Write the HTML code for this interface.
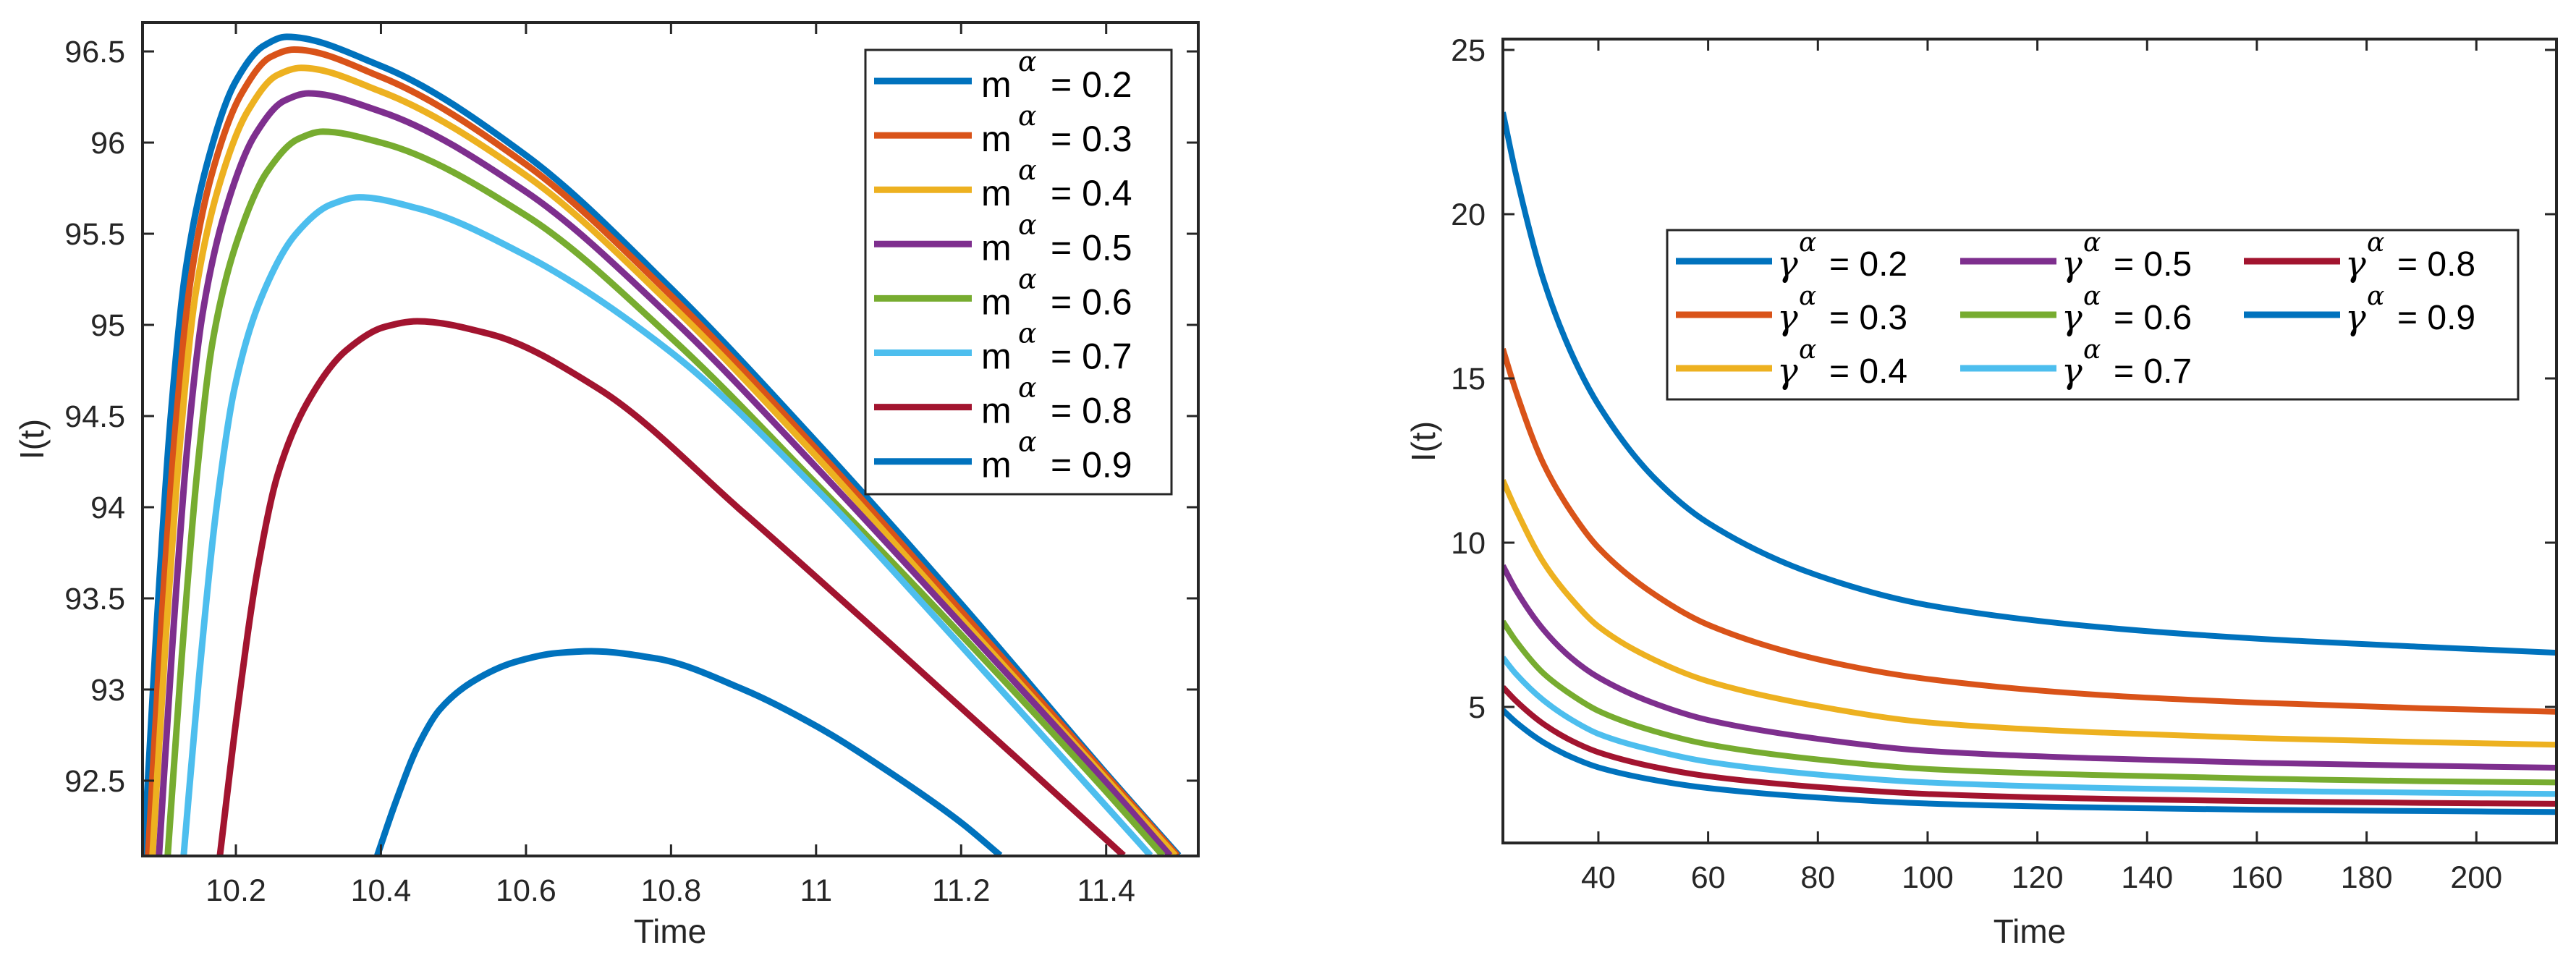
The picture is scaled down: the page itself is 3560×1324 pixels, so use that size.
<!DOCTYPE html>
<html><head><meta charset="utf-8"><style>
html,body{margin:0;padding:0;background:#fff;}
svg{display:block;font-family:"Liberation Sans",sans-serif;}
</style></head><body>
<svg id="fig" width="3560" height="1324" viewBox="0 0 3560 1324" xmlns="http://www.w3.org/2000/svg">
<defs>
<clipPath id="clipL"><rect x="197" y="31" width="1459" height="1152"/></clipPath>
<clipPath id="clipR"><rect x="2077" y="54" width="1456" height="1111"/></clipPath>
</defs>
<g id="left"></g>
<g id="right"></g>
</svg>
<script>
// ---- Left chart data ----
const leftLabels = ["0.2","0.3","0.4","0.5","0.6","0.7","0.8","0.9"];
const leftT02 = [10.073,10.090,10.110,10.130,10.160,10.199,10.238,10.27,10.4,10.6,10.8,11.0,11.2,11.4,11.50];
const leftI02 = [92.09,93.30,94.49,95.28,95.88,96.33,96.53,96.58,96.42,95.93,95.2,94.36,93.47,92.54,92.09];
const leftT03 = [10.079,10.096,10.117,10.137,10.167,10.208,10.248,10.28,10.4,10.6,10.8,11.0,11.2,11.4,11.498];
const leftI03 = [92.09,93.28,94.45,95.23,95.83,96.27,96.47,96.51,96.36,95.88,95.16,94.32,93.43,92.53,92.09];
const leftT04 = [10.085,10.103,10.124,10.144,10.175,10.216,10.257,10.29,10.4,10.6,10.8,11.0,11.2,11.4,11.495];
const leftI04 = [92.09,93.26,94.40,95.16,95.74,96.17,96.37,96.41,96.28,95.82,95.11,94.28,93.39,92.51,92.09];
const leftT05 = [10.094,10.112,10.133,10.154,10.185,10.226,10.267,10.30,10.4,10.6,10.8,11.0,11.2,11.4,11.488];
const leftI05 = [92.09,93.22,94.33,95.06,95.62,96.04,96.23,96.27,96.17,95.73,95.04,94.22,93.36,92.49,92.09];
const leftT06 = [10.106,10.125,10.147,10.168,10.2,10.243,10.286,10.32,10.4,10.6,10.8,11.0,11.2,11.4,11.478];
const leftI06 = [92.09,93.16,94.21,94.91,95.44,95.84,96.02,96.06,96.0,95.6,94.93,94.13,93.3,92.44,92.09];
const leftT07 = [10.128,10.149,10.174,10.198,10.234,10.283,10.331,10.37,10.45,10.6,10.8,11.0,11.2,11.4,11.461];
const leftI07 = [92.09,93.06,94.02,94.65,95.14,95.50,95.66,95.70,95.64,95.38,94.85,94.1,93.24,92.36,92.09];
const leftT08 = [10.178,10.202,10.230,10.257,10.298,10.352,10.406,10.45,10.55,10.7,10.9,11.1,11.3,11.424];
const leftI08 = [92.09,92.88,93.66,94.17,94.57,94.86,94.99,95.02,94.95,94.65,93.97,93.26,92.54,92.09];
const leftT09 = [10.395,10.421,10.451,10.481,10.525,10.584,10.643,10.69,10.78,10.9,11.0,11.1,11.2,11.254];
const leftI09 = [92.09,92.39,92.69,92.89,93.04,93.15,93.20,93.21,93.17,93.0,92.8,92.55,92.27,92.09];
const leftXTicks = [10.2,10.4,10.6,10.8,11,11.2,11.4];
const leftXTickLabels = ["10.2","10.4","10.6","10.8","11","11.2","11.4"];
const leftYTicks = [92.5,93,93.5,94,94.5,95,95.5,96,96.5];
const leftYTickLabels = ["92.5","93","93.5","94","94.5","95","95.5","96","96.5"];

// ---- Right chart data ----
const rightLabels = ["0.2","0.3","0.4","0.5","0.6","0.7","0.8","0.9"];
const rightT = [22.6,25,30,35,40,50,60,80,100,130,160,190,214.6];
const rightI02 = [23.1,21.2,18.0,15.8,14.2,12.0,10.6,9.0,8.1,7.45,7.08,6.83,6.65];
const rightI03 = [15.9,14.6,12.4,10.95,9.85,8.45,7.5,6.45,5.85,5.38,5.13,4.96,4.85];
const rightI04 = [11.9,11.0,9.4,8.3,7.45,6.45,5.78,5.02,4.53,4.23,4.05,3.93,3.85];
const rightI05 = [9.3,8.55,7.35,6.5,5.9,5.12,4.6,4.03,3.66,3.44,3.30,3.21,3.15];
const rightI06 = [7.6,7.0,6.02,5.38,4.88,4.27,3.86,3.4,3.11,2.93,2.82,2.74,2.7];
const rightI07 = [6.5,6.0,5.2,4.62,4.18,3.68,3.33,2.94,2.7,2.54,2.45,2.39,2.35];
const rightI08 = [5.6,5.18,4.48,3.98,3.62,3.18,2.89,2.56,2.35,2.21,2.13,2.08,2.05];
const rightI09 = [4.9,4.53,3.92,3.48,3.16,2.78,2.53,2.24,2.06,1.94,1.87,1.83,1.8];
const rightXTicks = [40,60,80,100,120,140,160,180,200];
const rightXTickLabels = ["40","60","80","100","120","140","160","180","200"];
const rightYTicks = [5,10,15,20,25];
const rightYTickLabels = ["5","10","15","20","25"];

const colors = ["#0072BD","#D95319","#EDB120","#7E2F8E","#77AC30","#4DBEEE","#A2142F","#0072BD"];
const NS = "http://www.w3.org/2000/svg";
const AX = "#262626";

function mk(tag, attrs, parent){
  const e = document.createElementNS(NS, tag);
  for (const k in attrs) e.setAttribute(k, attrs[k]);
  parent.appendChild(e);
  return e;
}
// monotone cubic (Fritsch-Carlson) path through points sorted by x
function smoothPath(pts){
  const n = pts.length;
  const dx=[], dy=[], m=[];
  for (let i=0;i<n-1;i++){ dx[i]=pts[i+1][0]-pts[i][0]; dy[i]=pts[i+1][1]-pts[i][1]; m[i]=dy[i]/dx[i]; }
  const tan=[m[0]];
  for (let i=1;i<n-1;i++){
    if (m[i-1]*m[i] <= 0) tan[i]=0;
    else { const w1=2*dx[i]+dx[i-1], w2=dx[i]+2*dx[i-1]; tan[i]=(w1+w2)/(w1/m[i-1]+w2/m[i]); }
  }
  tan[n-1]=m[n-2];
  let d = "M" + pts[0][0].toFixed(2) + "," + pts[0][1].toFixed(2);
  for (let i=0;i<n-1;i++){
    const h = dx[i]/3;
    d += " C"+(pts[i][0]+h).toFixed(2)+","+(pts[i][1]+tan[i]*h).toFixed(2)+" "+(pts[i+1][0]-h).toFixed(2)+","+(pts[i+1][1]-tan[i+1]*h).toFixed(2)+" "+pts[i+1][0].toFixed(2)+","+pts[i+1][1].toFixed(2);
  }
  return d;
}

function drawAxes(g, box, xs, ys, xT, xTL, yT, yTL, clipId, series, lw){
  const sg = mk("g", {"clip-path":"url(#"+clipId+")"}, g);
  series.forEach((s,i)=>{
    const pts = s.t.map((t,k)=>[xs(t), ys(s.v[k])]);
    const p = mk("path", {d: smoothPath(pts), fill:"none", stroke: colors[i], "stroke-width": lw, "stroke-linejoin":"round"}, sg);
    
    
  });
  const fr = mk("rect", {x:box.x, y:box.y, width:box.w, height:box.h, fill:"none", stroke:AX, "stroke-width":4}, g);
  
  
  const tl = 16;
  xT.forEach((v,i)=>{
    const x = xs(v);
    mk("line",{x1:x,x2:x,y1:box.y+box.h,y2:box.y+box.h-tl,stroke:AX,"stroke-width":3},g);
    mk("line",{x1:x,x2:x,y1:box.y,y2:box.y+tl,stroke:AX,"stroke-width":3},g);
    const t = mk("text",{x:x,y:box.y+box.h+62,"text-anchor":"middle","font-size":43,fill:AX},g);
    t.textContent = xTL[i];
    
    
  });
  yT.forEach((v,i)=>{
    const y = ys(v);
    mk("line",{x1:box.x,x2:box.x+tl,y1:y,y2:y,stroke:AX,"stroke-width":3},g);
    mk("line",{x1:box.x+box.w,x2:box.x+box.w-tl,y1:y,y2:y,stroke:AX,"stroke-width":3},g);
    const t = mk("text",{x:box.x-24,y:y+15,"text-anchor":"end","font-size":43,fill:AX},g);
    t.textContent = yTL[i];
    
    
  });
}

// ---- Left ----
(function(){
  const g = document.getElementById("left");
  const box = {x:197,y:31,w:1459,h:1152};
  const x0=10.0713, x1=11.527, y0=92.087, y1=96.659;
  const xs = v => box.x + (v-x0)/(x1-x0)*box.w;
  const ys = v => box.y + box.h - (v-y0)/(y1-y0)*box.h;
  const T=[leftT02,leftT03,leftT04,leftT05,leftT06,leftT07,leftT08,leftT09];
  const V=[leftI02,leftI03,leftI04,leftI05,leftI06,leftI07,leftI08,leftI09];
  const series = T.map((t,i)=>({t:t,v:V[i],name:"m-"+leftLabels[i]}));
  drawAxes(g, box, xs, ys, leftXTicks, leftXTickLabels, leftYTicks, leftYTickLabels, "clipL", series, 9);
  const xl = mk("text",{x:926,y:1303,"text-anchor":"middle","font-size":46,fill:AX},g);
  xl.textContent="Time";
  
  
  const yl = mk("text",{x:0,y:0,"text-anchor":"middle","font-size":46,fill:AX,transform:"translate(60,607) rotate(-90)"},g);
  yl.textContent="I(t)";
  
  
  const lg = mk("g",{},g);
  
  
  mk("rect",{x:1196,y:69,width:423,height:614,fill:"#fff",stroke:AX,"stroke-width":3},lg);
  leftLabels.forEach((lab,i)=>{
    const y = 112 + i*75.1;
    const e = mk("g",{},lg);
    
    
    mk("line",{x1:1208,x2:1343,y1:y,y2:y,stroke:colors[i],"stroke-width":9},e);
    const t = mk("text",{x:1356,y:y+22,"font-size":50,fill:"#000"},e);
    t.innerHTML = '<tspan>m</tspan><tspan x="1407" dy="-36" font-size="38" font-style="italic" font-family="DejaVu Serif, serif">α</tspan><tspan x="1452" dy="36">= '+lab+'</tspan>';
  });
})();

// ---- Right ----
(function(){
  const g = document.getElementById("right");
  const box = {x:2077,y:54,w:1456,h:1111};
  const x0=22.6, x1=214.6;
  const yPer = 45.4;
  const y1 = 25 + (69-54)/yPer, y0 = y1 - box.h/yPer;
  const xs = v => box.x + (v-x0)/(x1-x0)*box.w;
  const ys = v => box.y + box.h - (v-y0)/(y1-y0)*box.h;
  const V=[rightI02,rightI03,rightI04,rightI05,rightI06,rightI07,rightI08,rightI09];
  const series = V.map((v,i)=>({t:rightT,v:v,name:"gamma-"+rightLabels[i]}));
  drawAxes(g, box, xs, ys, rightXTicks, rightXTickLabels, rightYTicks, rightYTickLabels, "clipR", series, 8);
  const xl = mk("text",{x:2805,y:1303,"text-anchor":"middle","font-size":46,fill:AX},g);
  xl.textContent="Time";
  
  
  const yl = mk("text",{x:0,y:0,"text-anchor":"middle","font-size":46,fill:AX,transform:"translate(1983,610) rotate(-90)"},g);
  yl.textContent="I(t)";
  
  
  const lg = mk("g",{},g);
  
  
  mk("rect",{x:2304,y:318,width:1176,height:234,fill:"#fff",stroke:AX,"stroke-width":3},lg);
  const colX=[2316,2709,3101], rowY=[361,435,509];
  rightLabels.forEach((lab,i)=>{
    const c = Math.floor(i/3), r = i%3;
    const x = colX[c], y = rowY[r];
    const e = mk("g",{},lg);
    
    
    mk("line",{x1:x,x2:x+133,y1:y,y2:y,stroke:colors[i],"stroke-width":9},e);
    const t = mk("text",{x:x+140,y:y+20,"font-size":48,fill:"#000"},e);
    t.innerHTML = '<tspan font-style="italic" font-family="DejaVu Serif, serif">γ</tspan><tspan x="'+(x+170)+'" dy="-34" font-size="36" font-style="italic" font-family="DejaVu Serif, serif">α</tspan><tspan x="'+(x+212)+'" dy="34">= '+lab+'</tspan>';
  });
})();
</script>
</body></html>
